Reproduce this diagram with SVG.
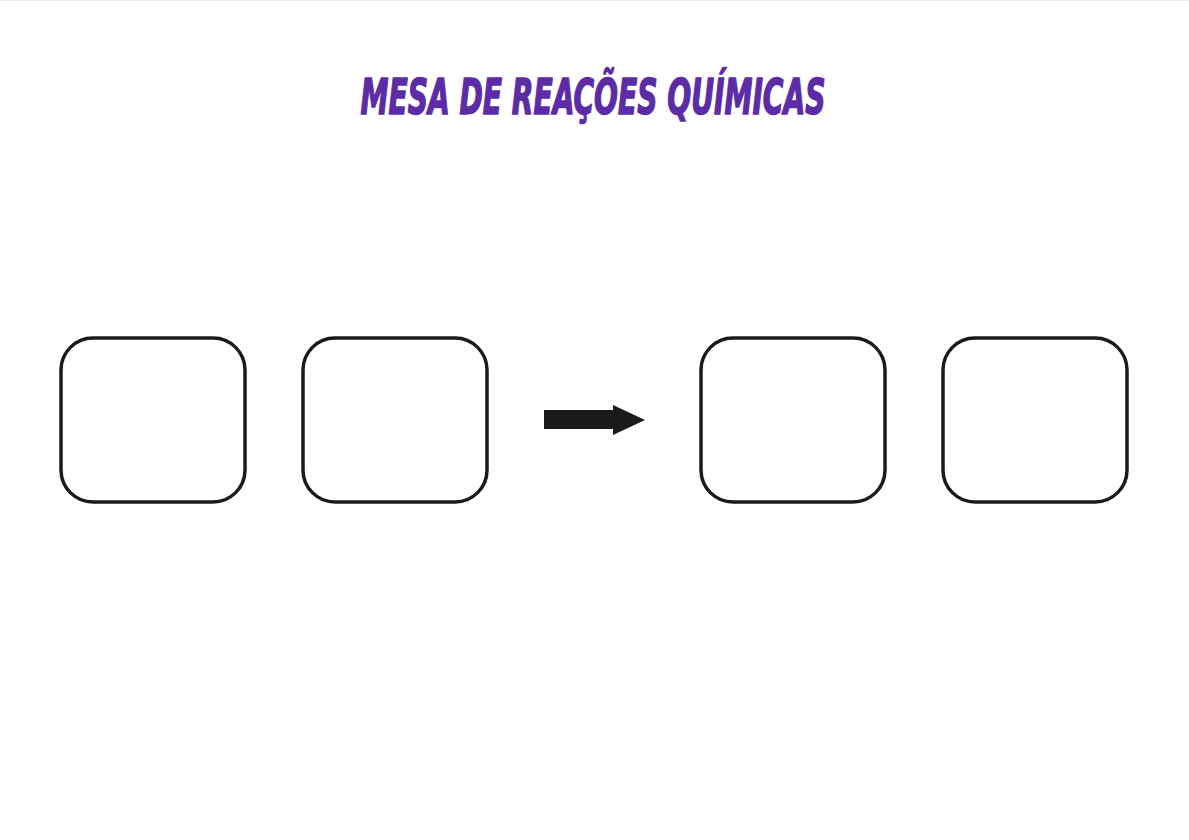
<svg xmlns="http://www.w3.org/2000/svg" width="1189" height="840" viewBox="0 0 1189 840">
<style>
.box{fill:#fff;stroke:#1a1a1a;stroke-width:3.5}
.title{font-family:"DejaVu Sans Condensed","Liberation Sans",sans-serif;font-weight:bold;font-style:italic;font-size:50px;fill:#5c2ca6;stroke:#5c2ca6;stroke-width:1.5;stroke-linejoin:round}
</style>
<rect width="1189" height="840" fill="#fff"/>
<line x1="0" y1="0.5" x2="1189" y2="0.5" stroke="#eeeeee" stroke-width="1"/>
<text class="title" x="593" y="114" text-anchor="middle" textLength="465" lengthAdjust="spacingAndGlyphs">MESA DE REAÇÕES QUÍMICAS</text>
<g id="reagente1"><rect class="box" x="61" y="338" width="184" height="164" rx="32"/></g>
<g id="reagente2"><rect class="box" x="303" y="338" width="184" height="164" rx="32"/></g>
<g id="produto1"><rect class="box" x="701" y="338" width="184" height="164" rx="32"/></g>
<g id="produto2"><rect class="box" x="943" y="338" width="184" height="164" rx="32"/></g>
<g id="connectors">
<polygon points="544,410 613,410 613,405 645,420 613,435 613,429 544,429" fill="#1a1a1a"/>
</g>
</svg>
